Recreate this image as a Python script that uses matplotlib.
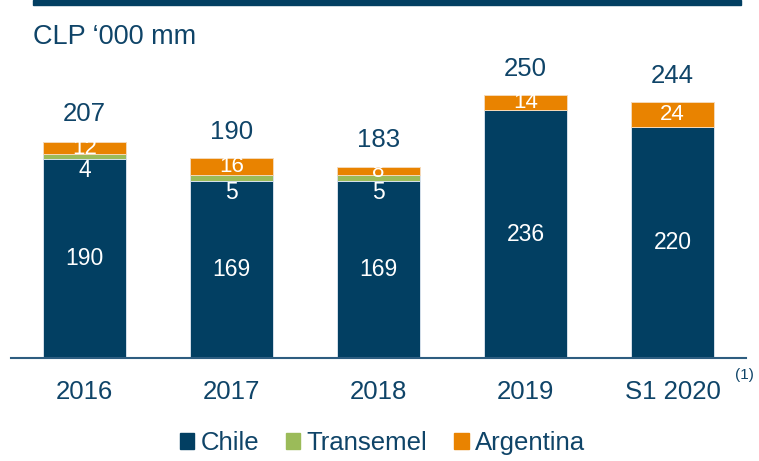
import matplotlib
matplotlib.use("Agg")
import matplotlib.pyplot as plt
from matplotlib.patches import Rectangle, Patch
import numpy as np

# data (CLP '000 mm)
periods = ["2016", "2017", "2018", "2019", "S1 2020"]
chile = [190, 169, 169, 236, 220]
transemel = [4, 5, 5, 0, 0]
argentina = [12, 16, 8, 14, 24]
totals = [207, 190, 183, 250, 244]

navy = "#023F62"
green = "#9BBB59"
orange = "#E98300"
txt = "#0F4468"

plt.rcParams["font.family"] = ["Liberation Sans", "DejaVu Sans"]

W, H = 759, 461
fig = plt.figure(figsize=(W / 100, H / 100), dpi=100)
ax = fig.add_axes([11 / W, 1 - 358 / H, 735 / W, 304.5 / H])

x = np.arange(len(periods))
bw = 0.558
chile = np.array(chile)
transemel = np.array(transemel)
argentina = np.array(argentina)

ax.bar(x, chile, bw, color=navy, edgecolor="#d5e0ea", linewidth=0.7, label="Chile")
ax.bar(x, transemel, bw, bottom=chile, color=green, edgecolor="#d5e0ea", linewidth=0.7, label="Transemel")
ax.bar(x, argentina, bw, bottom=chile + transemel, color=orange, edgecolor="#f5d9b8", linewidth=0.7, label="Argentina")

# labels
for i in range(len(periods)):
    ax.text(x[i], chile[i] / 2, str(chile[i]), ha="center", va="center", color="white", fontsize=16.5)
    if transemel[i] > 0:
        ax.text(x[i], chile[i] + transemel[i] / 2 - 13.5, str(transemel[i]), ha="center", va="center",
                color="white", fontsize=16.5)
    ax.text(x[i], chile[i] + transemel[i] + argentina[i] / 2, str(argentina[i]), ha="center", va="center",
            color="white", fontsize=16)
    ax.text(x[i], totals[i] + 25, str(totals[i]), ha="center", va="center", color=txt, fontsize=18.5)

ax.set_xlim(-0.5, 4.5)
ax.set_ylim(0, 290)
ax.set_xticks(x)
ax.set_xticklabels(periods, fontsize=18.5, color=txt)
ax.tick_params(axis="x", length=0, pad=16)
ax.set_yticks([])
for s in ["top", "right", "left"]:
    ax.spines[s].set_visible(False)
ax.spines["bottom"].set_color("#2E5D80")
ax.spines["bottom"].set_linewidth(1.5)

# header band and title
fig.patches.append(Rectangle((33 / W, 1 - 5 / H), 708 / W, 5 / H, transform=fig.transFigure,
                             color=navy, zorder=0))
fig.text(33 / W, 1 - 44 / H, "CLP \u2018000 mm", fontsize=19.5, color=txt, va="baseline", ha="left")
fig.text(744 / W, 1 - 375 / H, "(1)", fontsize=11, color=txt, ha="center", va="center")

handles = [Patch(color=navy), Patch(color=green), Patch(color=orange)]
fig.legend(handles, ["Chile", "Transemel", "Argentina"], loc="center", ncol=3,
           bbox_to_anchor=(382.5 / W, 1 - 443 / H), frameon=False, borderpad=0, borderaxespad=0,
           prop={"size": 18.5}, labelcolor=txt,
           handlelength=0.55, handleheight=0.55, handletextpad=0.25, columnspacing=1.05)

fig.savefig("out.png", dpi=100)
